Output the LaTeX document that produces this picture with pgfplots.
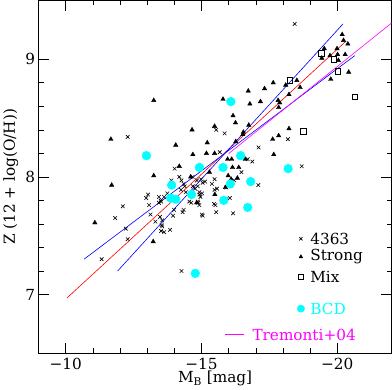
\documentclass[border=0pt]{standalone}
\usepackage{fontspec}
\setmainfont{DejaVu Serif}
\usepackage{pgfplots}
\pgfplotsset{compat=1.18}
\definecolor{bcdcyan}{RGB}{0,255,255}
\definecolor{tremag}{RGB}{255,0,255}
\definecolor{fitblue}{RGB}{0,0,255}
\definecolor{fitred}{RGB}{255,0,0}
\begin{document}
\begin{tikzpicture}
\begin{axis}[
  scale only axis, width=347pt, height=347pt,
  x dir=reverse, xmin=-22, xmax=-9, ymin=6.5, ymax=9.5,
  xtick={-10,-15,-20}, xticklabels={−10,−15,−20},
  ytick={7,8,9}, yticklabels={7,8,9},
  minor x tick num=4, minor y tick num=4,
  tick align=inside, major tick length=10pt, minor tick length=5pt,
  axis line style={line width=0.8pt}, every tick/.style={black, line width=0.6pt},
  font=\fontsize{15}{18}\selectfont,
  tick label style={font=\fontsize{15}{18}\selectfont},
  xticklabel style={yshift=-1pt},
  xlabel={M\textsubscript{B} [mag]}, ylabel={Z (12 + log(O/H))},
  xlabel style={yshift=5pt},
  clip=true,
]
% 4363 (crosses)
\addplot[only marks, mark=x, mark size=2.5pt, mark options={line width=0.6pt}] table {
x y
-12.28 8.34
-15.54 8.40
-15.85 8.37
-14.01 8.07
-18.43 9.30
-18.18 8.32
-17.10 8.25
-15.67 8.21
-16.70 8.15
-16.87 8.13
-16.47 8.04
-18.69 8.09
-16.20 7.97
-17.09 7.93
-15.13 7.96
-15.38 7.94
-15.57 7.90
-15.91 7.91
-15.91 7.81
-16.04 7.82
-15.46 7.77
-15.51 7.76
-15.54 7.70
-16.16 7.69
-15.01 7.68
-15.04 7.67
-14.86 7.92
-14.92 7.85
-14.86 7.79
-13.89 7.97
-14.18 8.00
-14.26 7.97
-14.34 7.94
-14.67 8.00
-14.83 7.97
-14.98 7.98
-15.04 7.95
-14.24 7.89
-14.42 7.87
-14.76 7.90
-14.92 7.87
-14.96 7.83
-14.55 7.79
-14.62 7.78
-14.88 7.78
-14.92 7.76
-13.74 7.86
-13.62 7.83
-13.43 7.83
-13.49 7.80
-13.03 7.85
-12.96 7.82
-13.07 7.76
-13.43 7.78
-13.51 7.79
-12.10 7.75
-14.34 7.72
-13.99 7.72
-14.30 7.70
-13.12 7.68
-13.47 7.66
-13.95 7.67
-11.82 7.65
-13.30 7.62
-13.53 7.59
-13.55 7.58
-12.21 7.56
-13.84 7.55
-13.51 7.54
-13.62 7.53
-12.28 7.47
-11.32 7.30
-14.26 7.20
-15.48 7.98
-13.55 7.63
-14.68 7.92
-14.38 7.92
-15.02 7.86
-15.48 7.89
};
% Strong (triangles)
\addplot[only marks, mark=triangle*, mark size=2.5pt, black] table {
x y
-13.24 8.65
-11.66 8.32
-14.65 8.40
-15.48 8.43
-14.05 8.27
-15.21 8.29
-14.68 8.19
-15.48 8.20
-14.18 8.09
-13.24 8.01
-11.69 7.93
-11.07 7.61
-13.22 7.45
-14.60 8.00
-15.29 8.04
-15.79 8.66
-16.16 8.52
-16.25 8.46
-16.74 8.44
-16.54 8.38
-16.52 8.36
-16.26 8.30
-16.72 8.73
-17.32 8.75
-17.64 8.80
-16.78 8.62
-17.17 8.64
-17.82 8.65
-17.88 8.63
-17.84 8.59
-18.22 8.70
-18.10 8.78
-18.51 8.82
-18.63 8.76
-18.22 8.41
-17.62 8.32
-17.84 8.35
-17.66 8.19
-15.96 8.15
-16.11 8.15
-16.61 8.15
-16.14 8.08
-16.37 8.08
-15.98 8.01
-16.09 7.98
-16.32 7.99
-15.88 7.91
-15.49 7.85
-20.18 9.21
-20.23 9.16
-20.39 9.13
-19.52 9.09
-19.43 9.01
-19.99 9.09
-20.01 9.04
-20.29 9.04
-20.04 8.99
-19.73 9.03
-20.42 8.89
-19.76 8.83
-15.18 8.20
-14.82 7.78
};
% Mix (squares)
\addplot[only marks, mark=square, mark size=2.8pt, mark options={line width=0.6pt}] table {
x y
-19.40 9.05
-19.87 9.00
-20.02 8.90
-20.65 8.68
-18.25 8.82
-18.74 8.39
};
% BCD
\addplot[only marks, bcdcyan, mark=*, mark size=4.3pt, mark options={draw=bcdcyan, fill=bcdcyan}] table {
x y
-12.97 8.18
-14.92 8.08
-13.90 7.93
-13.86 7.82
-14.05 7.81
-14.63 7.85
-14.77 7.18
-16.08 8.64
-16.44 8.18
-15.79 8.08
-18.19 8.07
-16.06 7.94
-16.81 7.96
-15.82 7.80
-16.70 7.74
};
% fits
\addplot[fitred, line width=0.6pt] coordinates {(-10.04,6.97) (-20.33,9.155)};
\addplot[fitblue, line width=0.6pt] coordinates {(-10.67,7.30) (-20.64,9.03)};
\addplot[fitblue, line width=0.6pt] coordinates {(-11.91,7.20) (-20.21,9.30)};
\addplot[tremag, line width=0.6pt] coordinates {(-16.0,8.198) (-22.0,9.308)};
% legend
\addplot[only marks, mark=x, mark size=2.2pt, mark options={line width=0.6pt}] coordinates {(-18.66,7.474)};
\addplot[only marks, mark=triangle*, mark size=2.2pt, black] coordinates {(-18.66,7.32)};
\addplot[only marks, mark=square, mark size=2.4pt, mark options={line width=0.6pt}] coordinates {(-18.66,7.147)};
\addplot[only marks, bcdcyan, mark=*, mark size=3.6pt, mark options={draw=bcdcyan, fill=bcdcyan}] coordinates {(-18.66,6.88)};
\addplot[tremag, line width=0.6pt] coordinates {(-15.87,6.66) (-16.57,6.66)};
\node[anchor=west, inner sep=0pt] at (axis cs:-19.0,7.474) {4363};
\node[anchor=west, inner sep=0pt] at (axis cs:-19.0,7.32) {Strong};
\node[anchor=west, inner sep=0pt] at (axis cs:-19.0,7.147) {Mix};
\node[anchor=west, inner sep=0pt, text=bcdcyan] at (axis cs:-19.0,6.88) {BCD};
\node[anchor=west, inner sep=0pt, text=tremag] at (axis cs:-16.87,6.66) {Tremonti+04};
\end{axis}
\end{tikzpicture}
\end{document}
